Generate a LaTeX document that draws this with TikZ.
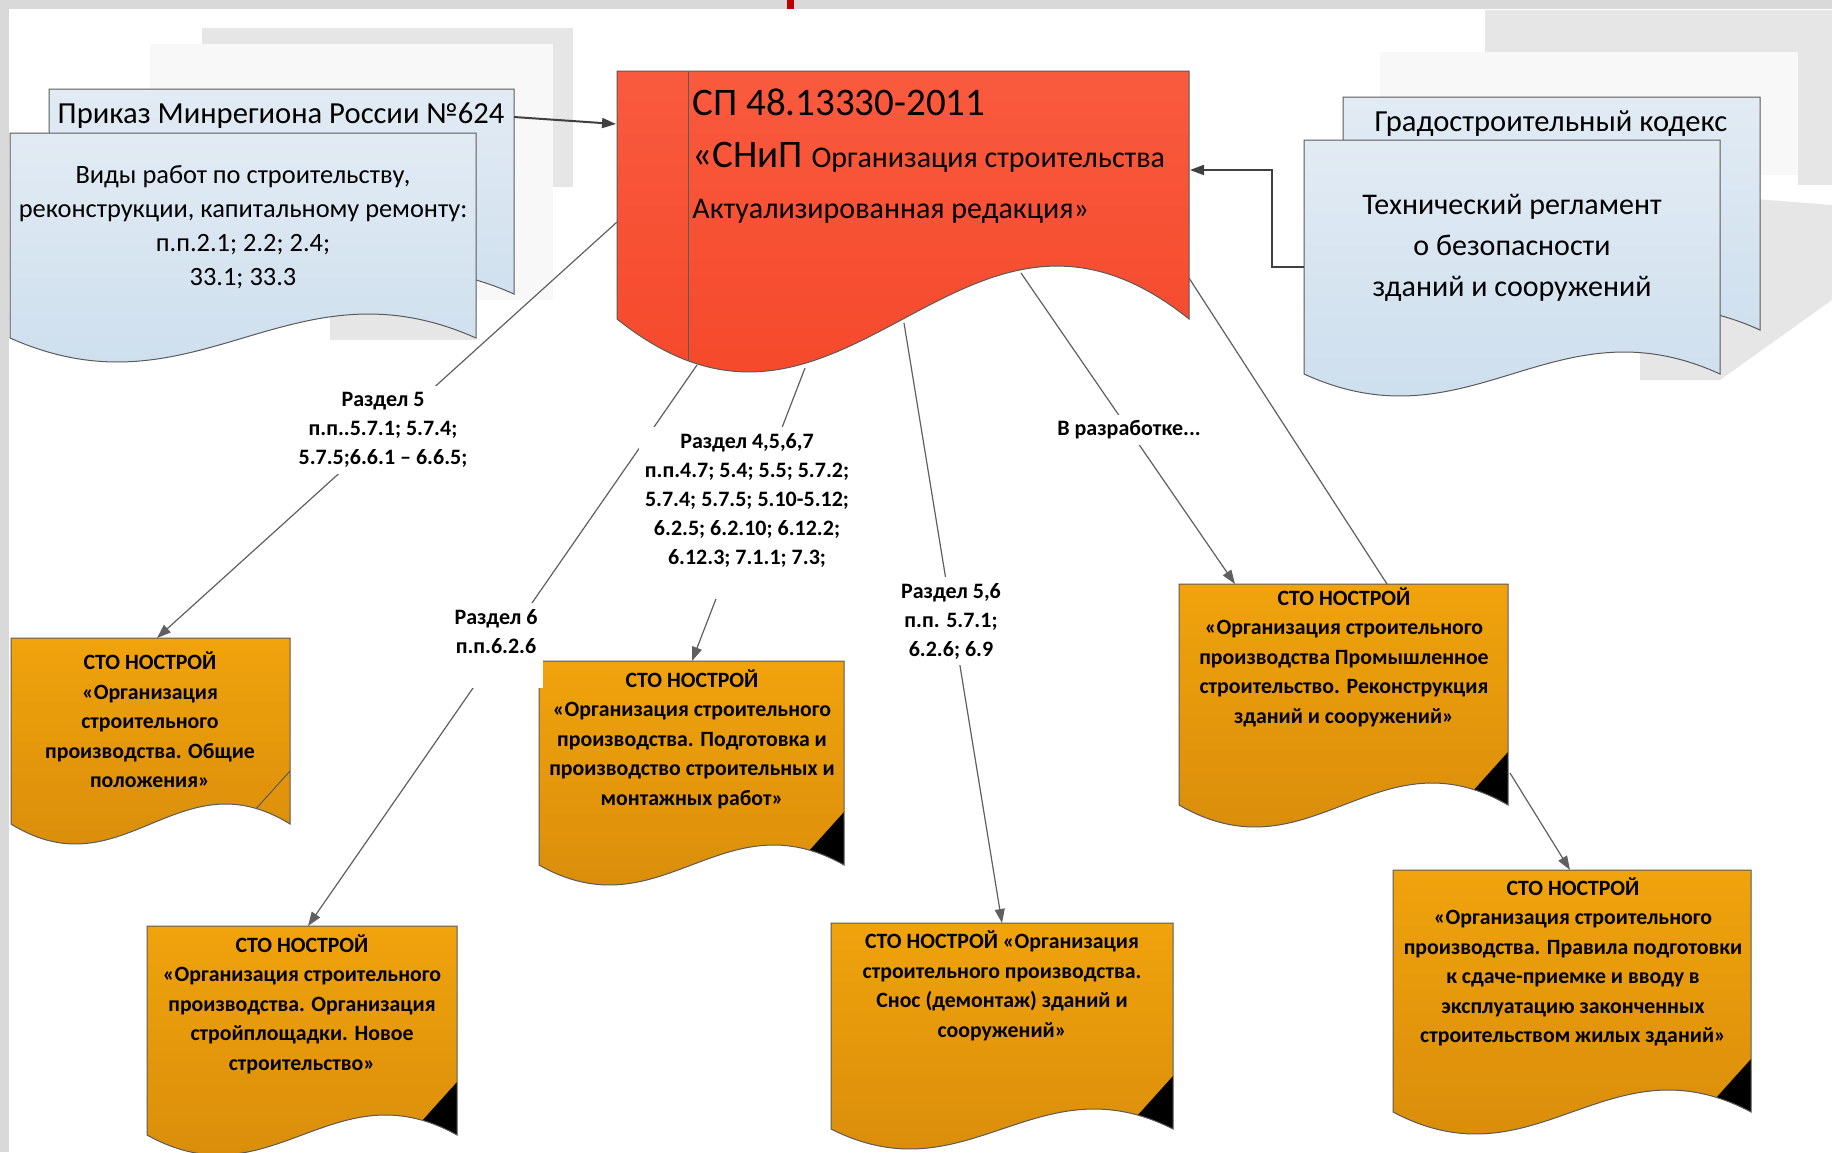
\documentclass[tikz,border=0pt]{standalone}
\usepackage{fontspec}
\setmainfont{Carlito}
\usetikzlibrary{arrows.meta}
\definecolor{bandgray}{HTML}{D9D9D9}
\definecolor{decogray}{HTML}{E6E6E6}
\definecolor{palegray}{HTML}{F8F8F8}
\definecolor{edgegray}{HTML}{5A5A5A}
\definecolor{linegray}{HTML}{606060}
\definecolor{orangetop}{HTML}{F0A30C}
\definecolor{orangebot}{HTML}{D6890A}
\definecolor{redtop}{HTML}{F95A3E}
\definecolor{redbot}{HTML}{F44224}
\definecolor{bluetop}{HTML}{E2EBF4}
\definecolor{bluebot}{HTML}{C9DCEC}
\definecolor{markred}{HTML}{C00000}
\newcommand{\wavedoc}[5]{(#1,#2) -- (#3,#2) -- (#3,#4) .. controls ({#3-0.4*(#3-#1)},{#4-3.46*#5}) and ({#1+0.4*(#3-#1)},{#4+3.46*#5}) .. (#1,#4) -- cycle}
\newcommand{\stodoc}[6][fill=black]{%
  \path[stofill] \wavedoc{#2}{#3}{#4}{#5}{#6};
  \begin{scope}
    \clip \wavedoc{#2}{#3}{#4}{#5}{#6};
    \path[#1] (#4,{#5-53}) -- ++(-90,100) -- ++(100,0) -- cycle;
  \end{scope}
  \draw[docedge] \wavedoc{#2}{#3}{#4}{#5}{#6};}
\begin{document}
\begin{tikzpicture}[x=0.5pt,y=-0.5pt,
  docedge/.style={draw=edgegray, line width=0.5pt},
  bluedoc/.style={top color=bluetop, bottom color=bluebot},
  stofill/.style={top color=orangetop, bottom color=orangebot},
  redfill/.style={top color=redtop, bottom color=redbot},
  conn/.style={draw=linegray, line width=0.6pt},
  darkconn/.style={draw=black!75, line width=1pt},
  arrowtip/.style={-{Triangle[length=7pt,width=5pt]}},
  lab/.style={fill=white, align=center, inner sep=3pt, font=\fontsize{11}{14.5}\selectfont\bfseries},
  stotext/.style={align=center, inner sep=0pt, font=\fontsize{10.9}{14.75}\selectfont\bfseries},
  bluetext/.style={align=center, inner sep=0pt}]
\useasboundingbox (0,0) rectangle (1832,1152);
\fill[white] (0,0) rectangle (1832,1152);
\fill[bandgray] (0,0) rectangle (1832,9);
\fill[bandgray] (0,0) rectangle (9,1152);
\fill[markred] (787,0) rectangle (794,9);
\fill[palegray] (150,44) rectangle (553,300);
\fill[decogray] (202,28) rectangle (573,44);
\fill[decogray] (553,44) rectangle (573,187);
\fill[decogray] (330,230) rectangle (475,340);
\fill[palegray] (1380,52) rectangle (1798,175);
\fill[decogray] (1485,10) rectangle (1832,52);
\fill[decogray] (1798,52) rectangle (1832,185);
\fill[decogray] (1640,190) -- (1832,205) -- (1832,300) -- (1720,380) -- (1640,380) -- cycle;

\draw[bluedoc, docedge] \wavedoc{49}{89}{514}{294}{24};
\node[bluetext, font=\fontsize{15.3}{18}\selectfont] (prikaz) at (281,116) {Приказ Минрегиона России №624};
\draw[bluedoc, docedge] \wavedoc{10}{133}{476}{338}{24};
\node[bluetext, font=\fontsize{13.2}{17}\selectfont] (vidy) at (243,227) {Виды работ по строительству,\\реконструкции, капитальному ремонту:\\п.п.2.1; 2.2; 2.4;\\33.1; 33.3};
\draw[bluedoc, docedge] \wavedoc{1343}{97}{1760}{330}{22};
\node[bluetext, font=\fontsize{15.3}{18}\selectfont] (grad) at (1551,124) {Градостроительный кодекс};
\draw[bluedoc, docedge] \wavedoc{1304}{140}{1720}{374}{22};
\node[bluetext, font=\fontsize{15}{20.5}\selectfont] (treg) at (1512,248) {Технический регламент\\о безопасности\\зданий и сооружений};

\draw[redfill, docedge] \wavedoc{617}{71}{1189}{319}{53};
\begin{scope}
\clip \wavedoc{617}{71}{1189}{319}{53};
\draw[docedge] (688,71) -- (688,420);
\end{scope}
\node[anchor=base west, inner sep=0pt, font=\fontsize{19.5}{22}\selectfont] (snipa) at (692,115) {СП 48.13330-2011};
\node[anchor=base west, inner sep=0pt] (snipb) at (692,167) {\fontsize{19.5}{22}\selectfont «СНиП \fontsize{15}{18}\selectfont Организация строительства};
\node[anchor=base west, inner sep=0pt, font=\fontsize{15}{18}\selectfont] (snipc) at (692,218) {Актуализированная редакция»};

\stodoc[docedge]{11}{638}{290}{824}{20}
\node[stotext] (sto1) at (150,720) {СТО НОСТРОЙ\\«Организация\\строительного\\производства. Общие\\положения»};
\stodoc{147}{926}{457}{1135}{20}
\node[stotext] (sto2) at (302,1004) {СТО НОСТРОЙ\\«Организация строительного\\производства. Организация\\стройплощадки. Новое\\строительство»};
\stodoc{539}{661}{844}{865}{20}
\node[stotext] (sto3) at (692,739) {СТО НОСТРОЙ\\«Организация строительного\\производства. Подготовка и\\производство строительных и\\монтажных работ»};
\stodoc{831}{923}{1173}{1129}{20}
\node[stotext] (sto4) at (1002,986) {СТО НОСТРОЙ «Организация\\строительного производства.\\Снос (демонтаж) зданий и\\сооружений»};
\stodoc{1179}{584}{1508}{805}{22}
\node[stotext] (sto5) at (1344,657) {СТО НОСТРОЙ\\«Организация строительного\\производства Промышленное\\строительство. Реконструкция\\зданий и сооружений»};
\stodoc{1393}{870}{1751}{1112}{22}
\node[stotext] (sto6) at (1573,962) {СТО НОСТРОЙ\\«Организация строительного\\производства. Правила подготовки\\к сдаче-приемке и вводу в\\эксплуатацию законченных\\строительством жилых зданий»};

\coordinate (prikaz-out) at (514,117);
\coordinate (snip-in) at (616,124);
\coordinate (treg-out) at (1304,267);
\coordinate (snip-in2) at (1190,170);
\coordinate (snip-s1) at (617,222);
\coordinate (snip-s2) at (697,365);
\coordinate (snip-s3) at (805,368);
\coordinate (snip-s4) at (904,323);
\coordinate (snip-s5) at (1021,273);
\coordinate (snip-s6) at (1189,278);
\coordinate (sto1-in) at (157,638);
\coordinate (sto2-in) at (308,926);
\coordinate (sto3-in) at (692,661);
\coordinate (sto4-in) at (1002,923);
\coordinate (sto5-in) at (1235,584);
\coordinate (sto5-top) at (1387,584);
\coordinate (sto5-out) at (1510,773);
\coordinate (sto6-in) at (1570,870);

\draw[darkconn, arrowtip] (prikaz-out) -- (snip-in);
\draw[darkconn, arrowtip] (treg-out) -- ++(-32,0) |- (snip-in2);
\draw[conn, arrowtip] (snip-s1) -- (sto1-in);
\draw[conn, arrowtip] (snip-s2) -- (sto2-in);
\draw[conn, arrowtip] (snip-s3) -- (sto3-in);
\draw[conn, arrowtip] (snip-s4) -- (sto4-in);
\draw[conn, arrowtip] (snip-s5) -- (sto5-in);
\draw[conn] (snip-s6) -- (sto5-top);
\draw[conn, arrowtip] (sto5-out) -- (sto6-in);

\node[lab] (lab1) at (383,430) {Раздел 5\\п.п..5.7.1; 5.7.4;\\5.7.5;6.6.1 – 6.6.5;};
\node[lab, anchor=north] (lab2) at (496,603) {Раздел 6\\п.п.6.2.6\\\mbox{}};
\node[lab, anchor=north] (lab3) at (747,427) {Раздел 4,5,6,7\\п.п.4.7; 5.4; 5.5; 5.7.2;\\5.7.4; 5.7.5; 5.10-5.12;\\6.2.5; 6.2.10; 6.12.2;\\6.12.3; 7.1.1; 7.3;\\\mbox{}};
\node[lab] (lab4) at (951,621) {Раздел 5,6\\п.п. 5.7.1;\\6.2.6; 6.9};
\node[lab] (lab5) at (1129,430) {В разработке...};
\end{tikzpicture}
\end{document}
